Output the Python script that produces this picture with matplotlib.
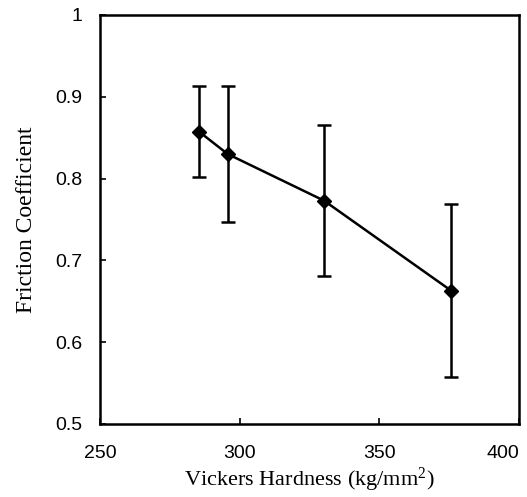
import matplotlib
matplotlib.use('Agg')
import matplotlib.pyplot as plt
import numpy as np


HARDNESS = [285.6, 295.7, 330.2, 375.7]
FRICTION = [0.857, 0.830, 0.773, 0.663]
ERR_LOW = [0.055, 0.083, 0.092, 0.106]
ERR_HIGH = [0.056, 0.083, 0.093, 0.106]

X_TICKS = [250, 300, 350, 400]
Y_TICKS = [0.5, 0.6, 0.7, 0.8, 0.9, 1.0]
Y_TICK_LABELS = ['0.5', '0.6', '0.7', '0.8', '0.9', '1']


def main():
    fig = plt.figure(figsize=(5.27, 4.97), dpi=100)
    ax = fig.add_axes([0.1898, 0.1469, 0.795, 0.823])

    ax.errorbar(HARDNESS, FRICTION, yerr=[ERR_LOW, ERR_HIGH], color='black',
                marker='D', markersize=7, linewidth=1.8, elinewidth=1.8,
                capsize=5, capthick=1.8)

    ax.set_xlim(250, 400)
    ax.set_ylim(0.5, 1.0)
    ax.set_xticks(X_TICKS)
    ax.set_yticks(Y_TICKS)
    ax.set_yticklabels(Y_TICK_LABELS)
    ax.tick_params(direction='in', length=4, width=1.2, labelsize=14,
                   top=False, right=False)
    ax.tick_params(axis='x', pad=15)
    ax.tick_params(axis='y', pad=13)
    for label in ax.get_xticklabels() + ax.get_yticklabels():
        label.set_family('Liberation Sans')
    # last x label sits inside the frame edge, as in the original
    ax.get_xticklabels()[-1].set_horizontalalignment('right')

    for spine in ax.spines.values():
        spine.set_linewidth(1.8)

    ax.set_xlabel('Vickers Hardness (kg/mm$^2$)', family='Liberation Serif',
                  fontsize=16, labelpad=3)
    ax.set_ylabel('Friction Coefficient', family='Liberation Serif',
                  fontsize=17, labelpad=13)

    fig.savefig('out.png', dpi=100)


if __name__ == '__main__':
    plt.rcParams['mathtext.fontset'] = 'custom'
    plt.rcParams['mathtext.rm'] = 'Liberation Serif'
    plt.rcParams['mathtext.it'] = 'Liberation Serif'
    main()
